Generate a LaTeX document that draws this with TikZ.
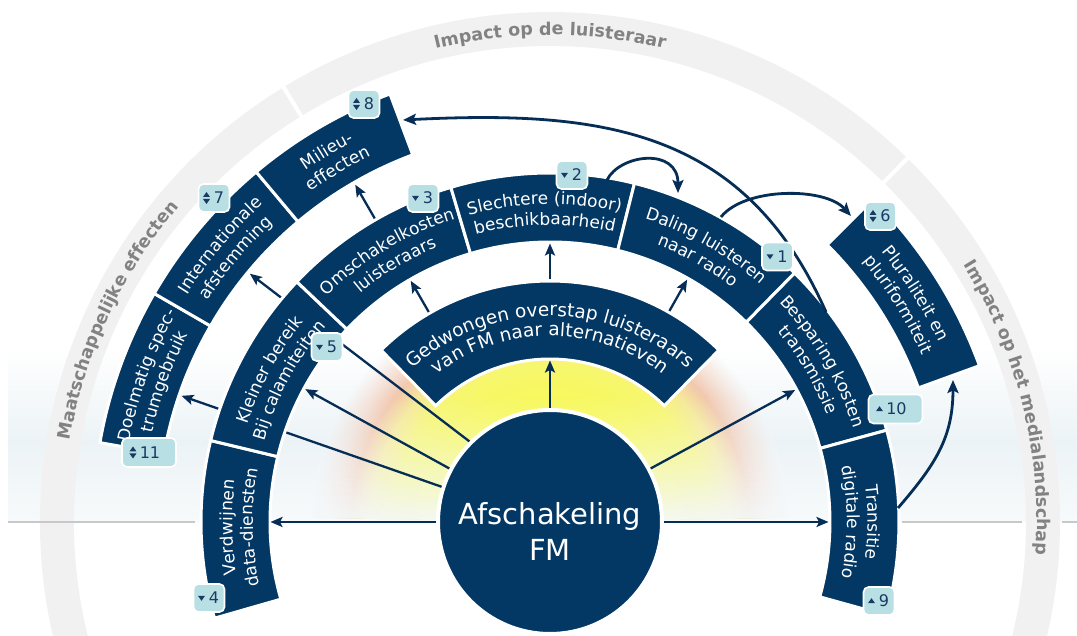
\documentclass[tikz,border=0pt]{standalone}
\usepackage{fontspec}
\setmainfont{DejaVu Sans}
\usetikzlibrary{arrows.meta,decorations.text}
\definecolor{navy}{RGB}{3,55,100}
\definecolor{arrowc}{RGB}{6,45,86}
\definecolor{badgec}{RGB}{184,224,228}
\definecolor{badgetxt}{RGB}{24,58,100}
\definecolor{bandc}{RGB}{241,241,241}
\definecolor{bandtxt}{RGB}{130,130,130}
\definecolor{hlinec}{RGB}{200,200,200}
\definecolor{bgtint}{RGB}{236,243,246}
\definecolor{bgtintb}{RGB}{247,250,251}
\definecolor{fadec}{RGB}{244,248,250}
\definecolor{gA}{RGB}{248,248,88}
\definecolor{gB}{RGB}{247,247,110}
\definecolor{gC}{RGB}{246,234,150}
\definecolor{gD}{RGB}{242,200,174}
\definecolor{gE}{RGB}{246,222,214}
\tikzset{
  sector/.style n args={4}{insert path={(#1:#3) arc[start angle=#1, end angle=#2, radius=#3] -- (#2:#4) arc[start angle=#2, end angle=#1, radius=#4] -- cycle}},
  blk/.style={fill=navy, draw=white, line width=3pt},
  bandseg/.style={fill=bandc},
  arctxt/.style={decorate, decoration={text along path, text align=center, text={|\color{white}\fontsize{17}{20}\selectfont|#1}}},
  arctxtbig/.style={decorate, decoration={text along path, text align=center, text={|\color{white}\fontsize{18.5}{20}\selectfont|#1}}},
  bandlabel/.style={decorate, decoration={text along path, text align=center, text={|\color{bandtxt}\bfseries\fontsize{17.5}{20}\selectfont|#1}}},
  arr/.style={draw=arrowc, line width=2.3pt, -{Stealth[length=12pt,width=10pt,inset=2.5pt]}},
  arrc/.style={draw=arrowc, line width=2.8pt, -{Stealth[length=13pt,width=11pt,inset=2.5pt]}},
  badge/.style={draw=white, line width=1.6pt, fill=badgec, rounded corners=5pt, minimum width=31pt, minimum height=28pt, inner sep=0pt, text=badgetxt, font=\fontsize{16}{18}\selectfont},
  wbadge/.style={badge, minimum width=54pt, minimum height=29pt},
  hl/.style={draw=hlinec, line width=1.5pt}
}
\newcommand\bline[3]{\path[arctxt={#3}] ({#1+70}:#2) arc[start angle={#1+70}, end angle={#1-70}, radius=#2];}
\newcommand\blinebig[3]{\path[arctxtbig={#3}] ({#1+70}:#2) arc[start angle={#1+70}, end angle={#1-70}, radius=#2];}
\newcommand\icdown[2]{\fill[badgetxt] ([shift={({#2-3.5},2.2)}]#1.center) -- ++(7,0) -- ++(-3.5,-5) -- cycle;}
\newcommand\icup[2]{\fill[badgetxt] ([shift={({#2-3.5},-2.2)}]#1.center) -- ++(7,0) -- ++(-3.5,5) -- cycle;}
\newcommand\icboth[2]{\fill[badgetxt] ([shift={({#2-3.5},1)}]#1.center) -- ++(7,0) -- ++(-3.5,5) -- cycle;
  \fill[badgetxt] ([shift={({#2-3.5},-1)}]#1.center) -- ++(7,0) -- ++(-3.5,-5) -- cycle;}
\begin{document}
\begin{tikzpicture}[x=1pt,y=1pt]
\useasboundingbox (-550,-114) rectangle (527,522);
\clip (-550,-114) rectangle (527,522);
% background tint
\shade[top color=white, bottom color=bgtint] (-542,80) rectangle (527,175);
\shade[top color=bgtint, bottom color=bgtintb] (-542,0) rectangle (527,80.5);
% outer band
\path[bandseg, sector={200}{121.75}{476}{510}];
\path[bandseg, sector={121.25}{45.75}{476}{510}];
\path[bandseg, sector={45.25}{-20}{476}{510}];
\path[bandlabel={Impact op de luisteraar}] (130:487) arc[start angle=130, end angle=50, radius=487];
\path[bandlabel={Maatschappelijke effecten}] (185:487) arc[start angle=185, end angle=125, radius=487];
\path[bandlabel={Impact op het medialandschap}] (44:487) arc[start angle=44, end angle=-16, radius=487];
% horizontal line
\draw[hl] (-542,0) -- (-355,0);
\draw[hl] (352,0) -- (472,0);
\draw[hl] (512,0) -- (527,0);
% glow
\begin{scope}
  \clip (0,0) -- (1:238) arc[start angle=1, end angle=179, radius=238] -- cycle;
  \foreach \ra/\rb/\ca/\cb in {110/158/gA/gB, 158/180/gB/gC, 180/199/gC/gD} {
    \foreach \k in {0,...,9} {
      \pgfmathsetmacro\rr{\ra+(\rb-\ra)*(\k+0.5)/10}
      \pgfmathsetmacro\lw{(\rb-\ra)/10+0.8}
      \pgfmathtruncatemacro\pp{95-10*\k}
      \draw[color=\ca!\pp!\cb, line width=\lw pt] (0,0) circle[radius=\rr];
    }
  }
  \foreach \k in {0,...,18} {
    \pgfmathsetmacro\rr{199+2*(\k+0.5)}
    \pgfmathsetmacro\op{1-(\k+0.5)/19}
    \pgfmathtruncatemacro\pp{100-5*\k}
    \draw[color=gD!\pp!gE, opacity=\op, line width=2pt] (0,0) circle[radius=\rr];
  }
  \foreach \i in {0,...,49} {
    \pgfmathsetmacro\op{0.95*(1-(\i+0.5)/50)}
    \fill[fadec, opacity=\op] (-260,{2.5*\i}) rectangle (260,{2.5*\i+2.5});
  }
\end{scope}
% centre
\node[circle, fill=navy, draw=white, line width=4pt, minimum size=224pt, inner sep=0pt] (fm) at (0,0) {};
\node[text=white, font=\fontsize{29}{36}\selectfont, align=center] (fmlabel) at (0,-9) {Afschakeling\\FM};
% coordinates
\coordinate (verdIn) at (180:279.5);
\coordinate (transIn) at (0:278.5);
\coordinate (gedIn) at (90:161.5);
\coordinate (bespIn) at (28.3:278.5);
\coordinate (kleinIn) at (151.5:278.5);
\coordinate (intIn) at (140.4:389.5);
\coordinate (doelIn) at (161.1:389.5);
\coordinate (gedOutA) at (120:242.5);
\coordinate (omschIn) at (120:278.5);
\coordinate (omschOut) at (120:350.5);
\coordinate (milIn) at (120:389.5);
\coordinate (gedOutB) at (90:242.5);
\coordinate (slechtIn) at (90:278.5);
\coordinate (gedOutC) at (60.5:242.5);
\coordinate (dalIn) at (60.5:278.5);
\coordinate (slechtTop) at (57,342);
\coordinate (dalTop) at (128,329);
\coordinate (dalTopB) at (171,305);
\coordinate (plurTop) at (301,306);
\coordinate (bespTop) at (276,210);
\coordinate (milRight) at (-147,402);
\coordinate (transRight) at (348,14);
\coordinate (plurBot) at (403,142);
% lines running under blocks
\draw[arr] (fm.135) -- (intIn);
\draw[arr] (fm.162) -- (doelIn);
% ring 1
\path[blk, sector={134.5}{45.5}{163}{241}];
% ring 2
\path[blk, sector={196}{166.5}{280}{349}];
\path[blk, sector={166.5}{136.5}{280}{349}];
\path[blk, sector={136.5}{106.5}{280}{349}];
\path[blk, sector={106.5}{76}{280}{349}];
\path[blk, sector={76}{45.5}{280}{349}];
\path[blk, sector={45.5}{15.25}{280}{349}];
\path[blk, sector={15.25}{-15.5}{280}{349}];
% ring 3
\path[blk, sector={170}{150}{392}{457}];
\path[blk, sector={150}{130}{392}{457}];
\path[blk, sector={130}{110.5}{392}{457}];
\path[blk, sector={45}{20}{392}{457}];
% texts
\blinebig{90}{206}{Gedwongen overstap luisteraars}
\blinebig{90}{186}{van FM naar alternatieven}
\bline{121}{317.5}{Omschakelkosten}
\bline{121}{297}{luisteraars}
\bline{91}{317.5}{Slechtere (indoor)}
\bline{91}{297}{beschikbaarheid}
\bline{60.5}{317.5}{Daling luisteren}
\bline{60.5}{297}{naar radio}
\bline{30.5}{317.5}{Besparing kosten}
\bline{30.5}{297}{transmissie}
\bline{0}{317.5}{Transitie}
\bline{0}{297}{digitale radio}
\bline{181}{317.5}{Verdwijnen}
\bline{181}{297}{data-diensten}
\bline{151.5}{317.5}{Kleiner bereik}
\bline{151.5}{297}{Bij calamiteiten}
\bline{160}{428}{Doelmatig spec-}
\bline{160}{407.5}{trumgebruik}
\bline{140}{428}{Internationale}
\bline{140}{407.5}{afstemming}
\bline{121}{428}{Milieu-}
\bline{121}{407.5}{effecten}
\bline{32}{428}{Pluraliteit en}
\bline{32}{407.5}{pluriformiteit}
% arrows
\draw[arr] (fm.180) -- (verdIn);
\draw[arr] (fm.0) -- (transIn);
\draw[arr] (fm.90) -- (gedIn);
\draw[arr] (fm.28) -- (bespIn);
\draw[arr] (fm.152) -- (kleinIn);
\draw[arr] (gedOutA) -- (omschIn);
\draw[arr] (omschOut) -- (milIn);
\draw[arr] (gedOutB) -- (slechtIn);
\draw[arr] (gedOutC) -- (dalIn);
\draw[arrc] (slechtTop) .. controls (70,368) and (128,375) .. (dalTop);
\draw[arrc] (dalTopB) .. controls (195,335) and (275,335) .. (plurTop);
\draw[arrc] (bespTop) .. controls (195,393) and (53,412) .. (milRight);
\draw[arrc] (transRight) .. controls (386,58) and (403,85) .. (plurBot);
% badges
\node[badge] (b8) at (-186,418) {\hspace*{10pt}8};
\node[badge] (b7) at (-336,324) {\hspace*{10pt}7};
\node[badge] (b3) at (-127,324) {\hspace*{10pt}3};
\node[badge] (b2) at (22,347) {\hspace*{10pt}2};
\node[badge] (b1) at (227.5,265.5) {\hspace*{10pt}1};
\node[badge] (b6) at (330.5,306) {\hspace*{10pt}6};
\node[wbadge] (b10) at (345.5,113) {\hspace*{2pt}10};
\node[badge] (b9) at (329,-79) {\hspace*{10pt}9};
\node[badge] (b4) at (-341,-76) {\hspace*{10pt}4};
\node[wbadge] (b11) at (-401,69.5) {\hspace*{2pt}11};
\node[badge] (b5) at (-223,175) {\hspace*{10pt}5};
\icboth{b8}{-7.5}
\icboth{b7}{-7.5}
\icdown{b3}{-7.5}
\icdown{b2}{-7.5}
\icdown{b1}{-7.5}
\icboth{b6}{-7.5}
\icup{b10}{-16}
\icup{b9}{-7.5}
\icdown{b4}{-7.5}
\icboth{b11}{-16}
\icdown{b5}{-7.5}
\end{tikzpicture}
\end{document}
